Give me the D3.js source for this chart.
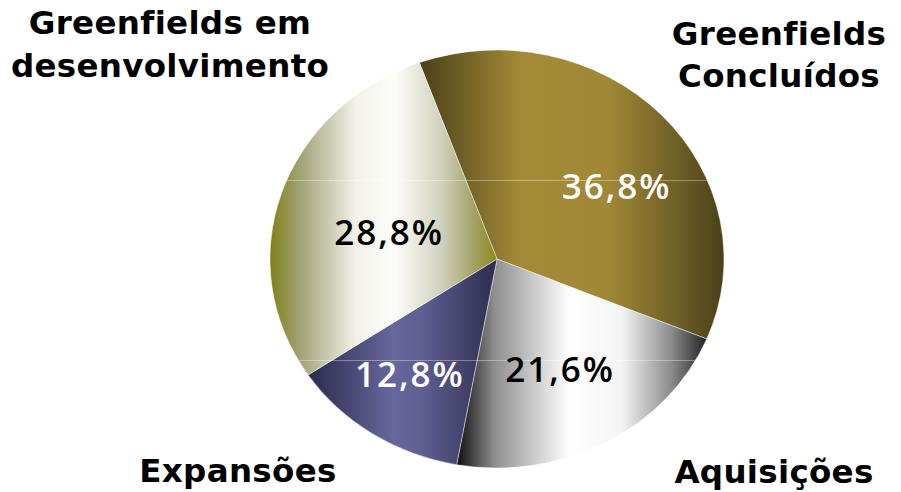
<!DOCTYPE html>
<html>
<head>
<meta charset="utf-8">
<script src="https://cdn.jsdelivr.net/npm/d3@7"></script>
<style>
  html, body { margin: 0; padding: 0; background: #fff; }
  svg { display: block; }
</style>
</head>
<body>
<svg id="chart" width="901" height="492"></svg>
<script>
// Share of projects by type
const categories = ["Greenfields Concluídos", "Aquisições", "Expansões", "Greenfields em desenvolvimento"];
const values = [36.8, 21.6, 12.8, 28.8];
const valueLabels = ["36,8%", "21,6%", "12,8%", "28,8%"];
const categoryLines = [["Greenfields", "Concluídos"], ["Aquisições"], ["Expansões"], ["Greenfields em", "desenvolvimento"]];

// Horizontal gradient fills (dark edge – light centre – dark edge)
const fills = [
  [[0, "#4a3f18"], [0.33, "#a38a37"], [0.62, "#a18836"], [0.85, "#6e5e26"], [1, "#4a3f18"]],
  [[0, "#0e0e0e"], [0.15, "#8e8e8e"], [0.45, "#ffffff"], [0.66, "#f4f4f4"], [0.86, "#8a8a8a"], [1, "#222222"]],
  [[0, "#2c2b4c"], [0.45, "#67679c"], [0.6, "#5f5f92"], [1, "#2d2c4e"]],
  [[0, "#808018"], [0.14, "#a4a47a"], [0.38, "#f2f2ea"], [0.55, "#fdfdf9"], [0.75, "#d2d2c0"], [0.9, "#a2a266"], [1, "#8a8a1a"]]
];
const valueColors = ["#ffffff", "#000000", "#ffffff", "#000000"];

// Layout
const cx = 497, cy = 259, rx = 227, ry = 209;
const startDeg = -20;
// label placement as fractions of the radius along the slice's mid-angle
const labelRadius = [[0.73, 0.5], [0.58, 0.6], [0.7, 0.66], [0.5, 0.41]];
// [x, first baseline, line height]
const categoryAnchors = [[779, 45, 42], [774, 483, 0], [238, 482, 0], [170, 34, 43]];

const svg = d3.select("#chart");
const defs = svg.append("defs");

fills.forEach((stops, i) => {
  const g = defs.append("linearGradient")
    .attr("id", "fill" + i)
    .attr("x1", 0).attr("y1", 0).attr("x2", 1).attr("y2", 0);
  stops.forEach(([o, c]) => g.append("stop").attr("offset", o).attr("stop-color", c));
});

const pie = d3.pie().sort(null)
  .startAngle(startDeg * Math.PI / 180)
  .endAngle((startDeg + 360) * Math.PI / 180)
  .value(d => d);
const arcs = pie(values);
const arc = d3.arc().innerRadius(0).outerRadius(rx);

const pieG = svg.append("g")
  .attr("transform", `translate(${cx},${cy}) scale(1,${ry / rx})`);

pieG.selectAll("path.slice")
  .data(arcs)
  .join("path")
  .attr("class", "slice")
  .attr("d", arc)
  .attr("fill", (d, i) => `url(#fill${i})`)
  .attr("stroke", "rgba(255,255,255,0.55)")
  .attr("stroke-width", 0.8)
  .attr("vector-effect", "non-scaling-stroke");

// faint horizontal guide lines inside the pie
defs.append("clipPath").attr("id", "pieClip")
  .append("ellipse").attr("cx", cx).attr("cy", cy).attr("rx", rx).attr("ry", ry);
const yGuide = d3.scaleLinear().domain([0, 1]).range([cy - ry, cy + ry]);
svg.append("g").attr("clip-path", "url(#pieClip)")
  .selectAll("line")
  .data([0.312, 0.742])
  .join("line")
  .attr("x1", cx - rx).attr("x2", cx + rx)
  .attr("y1", d => Math.round(yGuide(d)) + 0.5)
  .attr("y2", d => Math.round(yGuide(d)) + 0.5)
  .attr("stroke", "rgba(255,255,255,0.35)")
  .attr("stroke-width", 1);

// value labels
svg.selectAll("text.value")
  .data(arcs)
  .join("text")
  .attr("class", "value")
  .attr("x", (d, i) => cx + labelRadius[i][0] * rx * Math.sin((d.startAngle + d.endAngle) / 2))
  .attr("y", (d, i) => cy - labelRadius[i][1] * ry * Math.cos((d.startAngle + d.endAngle) / 2))
  .attr("dy", "0.36em")
  .attr("text-anchor", "middle")
  .attr("font-family", "'Open Sans', sans-serif")
  .attr("font-weight", 600)
  .attr("font-size", 35)
  .attr("letter-spacing", 2)
  .attr("fill", (d, i) => valueColors[i])
  .text((d, i) => valueLabels[i]);

// category labels
categoryLines.forEach((lines, i) => {
  const [x, y, lh] = categoryAnchors[i];
  const t = svg.append("text")
    .attr("text-anchor", "middle")
    .attr("font-family", "'DejaVu Sans', sans-serif")
    .attr("font-weight", "bold")
    .attr("font-size", 32.5)
    .attr("letter-spacing", 0.3)
    .attr("fill", "#000");
  lines.forEach((ln, j) => {
    t.append("tspan").attr("x", x).attr("y", y + j * lh).text(ln);
  });
  t.append("title").text(categories[i]);
});
</script>
</body>
</html>
